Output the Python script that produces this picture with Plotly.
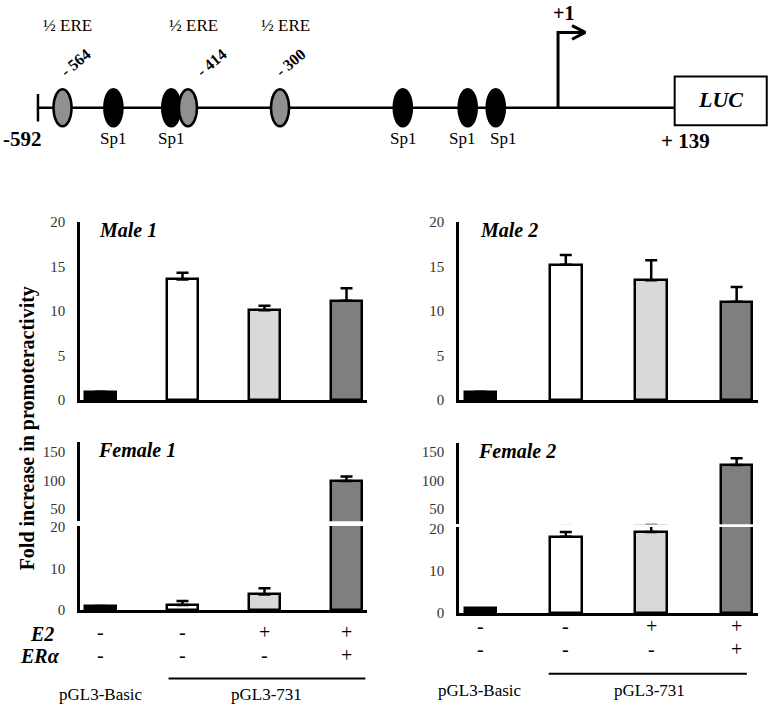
import plotly.graph_objects as go

W, H = 770, 713
SERIF = "Liberation Serif, Times New Roman, serif"

# ---------------- data ----------------
conditions = ["pGL3-Basic", "pGL3-731", "pGL3-731 + E2", "pGL3-731 + E2 + ERα"]
bar_colors = ["#000000", "#ffffff", "#d9d9d9", "#7f7f7f"]

male1 = [0.92, 13.55, 10.1, 11.15]
male1_err = [0, 0.75, 0.5, 1.4]
male2 = [0.92, 15.2, 13.45, 11.05]
male2_err = [0, 1.1, 2.25, 1.65]
female1 = [1.0, 1.25, 3.8, 99]
female1_err = [0, 0.95, 1.5, 8]
female2 = [1.1, 18.2, 19.3, 127]
female2_err = [0, 1.1, 1.6, 12]

e2_row = ["-", "-", "+", "+"]
era_row = ["-", "-", "-", "+"]

male_ticks = [0, 5, 10, 15, 20]
female_low_ticks = [0, 10, 20]
female_high_ticks = [50, 100, 150]

# promoter schematic (schematic bp positions)
prom_start = -592
tss = 1
luc_start, luc_end = 134, 239
ere_pos = [-564, -421, -316]
ere_names = ["- 564", "- 414", "- 300"]
ere_name_offset = [15, 27, 12]
sp1_pos = [-506, -440, -176, -102, -70]
sp1_label_offset = [0, 0, 0, -6, 8]

xpos = list(range(len(conditions)))


def py(p):
    return 1 - p / H


def px(p):
    return p / W


fig = go.Figure()


def add_bars(vals, errs, xa, ya):
    fig.add_trace(go.Bar(
        x=xpos, y=vals, width=0.37,
        marker=dict(color=bar_colors, line=dict(color="black", width=2.5)),
        error_y=dict(type="data", array=errs, arrayminus=[0] * len(errs),
                     symmetric=False, color="black", thickness=2.5, width=6),
        xaxis=xa, yaxis=ya, showlegend=False, hoverinfo="skip"))


add_bars(male1, male1_err, "x", "y")
add_bars(male2, male2_err, "x2", "y2")
add_bars(female1, female1_err, "x3", "y3")
add_bars(female1, female1_err, "x4", "y4")
add_bars(female2, female2_err, "x5", "y5")
add_bars(female2, female2_err, "x6", "y6")

# ---- schematic traces (axis x7/y7) ----
line_style = dict(color="black", width=2.5)
fig.add_trace(go.Scatter(x=[prom_start, luc_start], y=[0, 0], mode="lines",
                         line=line_style, xaxis="x7", yaxis="y7",
                         showlegend=False, hoverinfo="skip"))
fig.add_trace(go.Scatter(x=[prom_start, prom_start], y=[-14, 14], mode="lines",
                         line=line_style, xaxis="x7", yaxis="y7",
                         showlegend=False, hoverinfo="skip"))
arrow_len = 31
fig.add_trace(go.Scatter(x=[tss, tss, tss + arrow_len], y=[0, 77, 77], mode="lines",
                         line=dict(color="black", width=3), xaxis="x7", yaxis="y7",
                         showlegend=False, hoverinfo="skip"))
fig.add_trace(go.Scatter(x=[tss + arrow_len - 15, tss + arrow_len, tss + arrow_len - 15],
                         y=[84, 77, 70], mode="lines",
                         line=dict(color="black", width=3), xaxis="x7", yaxis="y7",
                         showlegend=False, hoverinfo="skip"))

shapes = []
ow, oh = 10.3, 19
for p in sp1_pos:
    shapes.append(dict(type="circle", xref="x7", yref="y7", x0=p - ow, x1=p + ow,
                       y0=-oh, y1=oh, fillcolor="black", line=dict(color="black", width=2.5)))
for p in ere_pos:
    shapes.append(dict(type="circle", xref="x7", yref="y7", x0=p - ow, x1=p + ow,
                       y0=-oh, y1=oh, fillcolor="#909090", line=dict(color="black", width=2.5)))
shapes.append(dict(type="rect", xref="x7", yref="y7", x0=luc_start, x1=luc_end,
                   y0=-18, y1=32, fillcolor="white", line=dict(color="black", width=2)))

# underline for pGL3-731
shapes.append(dict(type="line", xref="x4", yref="paper", x0=0.83, x1=3.23,
                   y0=py(686), y1=py(686), line=dict(color="black", width=2)))
shapes.append(dict(type="line", xref="x6", yref="paper", x0=0.8, x1=3.12,
                   y0=py(681), y1=py(681), line=dict(color="black", width=2)))

ann = []


def txt(text, x, y, xref, yref, size, angle=0, xanchor="center", color="black"):
    ann.append(dict(text=text, x=x, y=y, xref=xref, yref=yref, showarrow=False,
                    font=dict(family=SERIF, size=size, color=color), textangle=angle,
                    xanchor=xanchor, yanchor="middle"))


for p in ere_pos:
    txt("½ ERE", p + 6, 84, "x7", "y7", 17)
for p, n, o in zip(ere_pos, ere_names, ere_name_offset):
    txt("<b>%s</b>" % n, p + o, 46, "x7", "y7", 16, angle=-40)
for p, o in zip(sp1_pos, sp1_label_offset):
    txt("Sp1", p + o, -31, "x7", "y7", 17)
txt("<b>-592</b>", prom_start - 18, -32, "x7", "y7", 21)
txt("<b>+1</b>", tss + 6, 97, "x7", "y7", 20)
txt("<b>+ 139</b>", 146, -34, "x7", "y7", 21)
txt("<b><i>LUC</i></b>", (luc_start + luc_end) / 2, 8, "x7", "y7", 22)

# panel titles
txt("<b><i>Male 1</i></b>", px(97), py(227), "paper", "paper", 20, xanchor="left")
txt("<b><i>Male 2</i></b>", px(478), py(227), "paper", "paper", 20, xanchor="left")
txt("<b><i>Female 1</i></b>", px(96), py(452), "paper", "paper", 20, xanchor="left")
txt("<b><i>Female 2</i></b>", px(476), py(453), "paper", "paper", 20, xanchor="left")

txt("<b>Fold increase in promoteractivity</b>", px(27), py(430), "paper", "paper", 20, angle=-90)

# treatment rows
txt("<b><i>E2</i></b>", px(42), py(640), "paper", "paper", 20)
txt("<b><i>ERα</i></b>", px(40), py(663), "paper", "paper", 20)
for i in xpos:
    txt(e2_row[i], i, py(638), "x4", "paper", 20)
    txt(era_row[i], i, py(662), "x4", "paper", 20)
    txt(e2_row[i], i, py(632), "x6", "paper", 20)
    txt(era_row[i], i, py(656), "x6", "paper", 20)
txt(conditions[0], 0, py(702), "x4", "paper", 17)
txt(conditions[1], 2.03, py(702), "x4", "paper", 17)
txt(conditions[0], 0, py(698), "x6", "paper", 17)
txt(conditions[1], 1.98, py(698), "x6", "paper", 17)

tickfont = dict(family=SERIF, size=15, color="#333333")
xr = [-0.25, 3.25]
left_dom = [px(80), px(367)]
right_dom = [px(459), px(758)]


def xax(dom, anchor, show):
    return dict(domain=dom, range=xr, anchor=anchor, showline=show, linecolor="black",
                linewidth=2.5, showticklabels=False, ticks="", showgrid=False, zeroline=False,
                fixedrange=True)


def yax(dom, anchor, rng, tv):
    return dict(domain=dom, range=rng, anchor=anchor, showline=True, linecolor="black",
                linewidth=2.5, tickvals=tv, ticks="", showgrid=False, zeroline=False,
                tickfont=tickfont, ticklabelstandoff=9, fixedrange=True)


fig.update_layout(
    width=W, height=H, autosize=False,
    margin=dict(l=0, r=0, t=0, b=0),
    paper_bgcolor="white", plot_bgcolor="white",
    font=dict(family=SERIF, color="black"),
    bargap=0,
    xaxis=xax(left_dom, "y", True),
    yaxis=yax([py(401), py(219)], "x", [0, 20], male_ticks),
    xaxis2=xax(right_dom, "y2", True),
    yaxis2=yax([py(401), py(219)], "x2", [0, 20], male_ticks),
    xaxis3=xax(left_dom, "y3", False),
    yaxis3=yax([py(525), py(444)], "x3", [29, 167], female_high_ticks),
    xaxis4=xax(left_dom, "y4", True),
    yaxis4=yax([py(616), py(530)], "x4", [0, 20.24], female_low_ticks),
    xaxis5=xax(right_dom, "y5", False),
    yaxis5=yax([py(528), py(445)], "x5", [22.4, 166], female_high_ticks),
    xaxis6=xax(right_dom, "y6", True),
    yaxis6=yax([py(619), py(531)], "x6", [0, 20.5], female_low_ticks),
    xaxis7=dict(domain=[0, 1], range=[-635.3, 242.7], anchor="y7", visible=False, fixedrange=True),
    yaxis7=dict(domain=[py(160), 1], range=[-58, 102], anchor="x7", visible=False, fixedrange=True),
    shapes=shapes,
    annotations=ann,
)

fig.write_html("out.html", config={"displayModeBar": False},
               post_script="document.body.style.margin='0';document.body.style.overflow='hidden';")
